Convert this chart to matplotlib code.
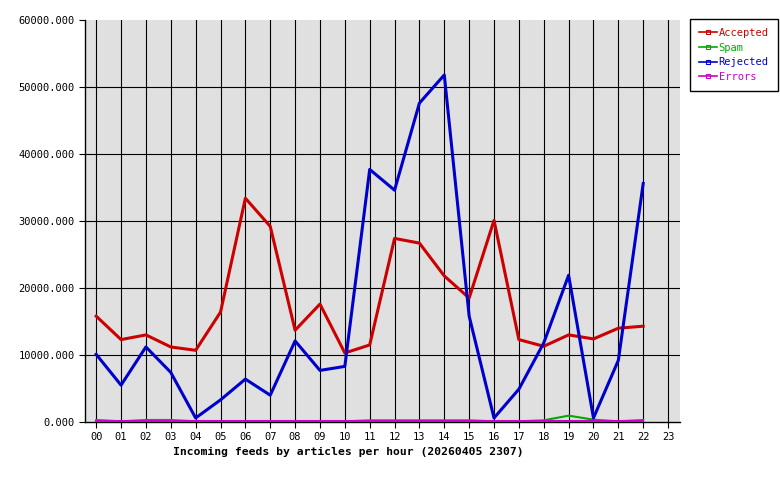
import matplotlib
matplotlib.use("Agg")
import matplotlib.pyplot as plt
from matplotlib.lines import Line2D

# hourly counts
hours = list(range(23))
hour_labels = ["%02d" % h for h in range(24)]
accepted = [15800, 12300, 13000, 11200, 10700, 16400, 33400, 29200, 13700, 17600,
            10300, 11500, 27400, 26700, 21800, 18500, 30100, 12300, 11300, 13000,
            12400, 14000, 14300]
spam = [300, 100, 300, 300, 100, 100, 100, 100, 100, 100,
        100, 250, 250, 250, 250, 250, 100, 100, 250, 950,
        350, 100, 300]
rejected = [10100, 5500, 11200, 7400, 600, 3300, 6400, 4000, 12100, 7700,
            8300, 37700, 34600, 47600, 51800, 15800, 600, 4900, 11800, 21900,
            600, 9200, 35600]
errors = [150] * 23

series = [("Accepted", accepted, "#cc0000", 2.2),
          ("Spam", spam, "#00aa00", 1.5),
          ("Rejected", rejected, "#0000cc", 2.2),
          ("Errors", errors, "#cc00cc", 1.5)]

plt.rcParams['font.family'] = ['DejaVu Sans Mono']

fig = plt.figure(figsize=(7.8, 4.8), dpi=100)
ax = fig.add_axes([85 / 780, 58 / 480, 595 / 780, 402 / 480])
ax.set_facecolor("#e0e0e0")

for h in range(24):
    ax.axvline(h, color="black", lw=0.8, zorder=1)
for v in range(10000, 60000, 10000):
    ax.axhline(v, color="black", lw=0.8, zorder=1)

for name, vals, col, lw in series:
    ax.plot(hours, vals, color=col, lw=lw, zorder=3)

ax.set_xlim(-0.45, 23.48)
ax.set_ylim(0, 60000)
ax.set_xticks(range(24))
ax.set_xticklabels(hour_labels, fontsize=7.5)
ax.set_yticks(range(0, 60001, 10000))
ax.set_yticklabels(["%d.000" % v for v in range(0, 60001, 10000)], fontsize=7.5)
ax.tick_params(direction="out", length=4, width=0.8, color="black")
ax.spines["top"].set_visible(False)
ax.spines["right"].set_visible(False)
ax.spines["left"].set_linewidth(1)
ax.spines["bottom"].set_linewidth(1)

fig.text(348 / 780, 1 - 452 / 480, "Incoming feeds by articles per hour (20260405 2307)",
         ha="center", va="center", fontsize=8.2, fontweight="bold")

handles = [Line2D([0], [0], color=col, lw=1.2, marker="s", markersize=2.5,
                  markerfacecolor="none", markeredgewidth=0.8)
           for name, vals, col, lw in series]
leg = fig.legend(handles, [s[0] for s in series], loc="upper left",
                 bbox_to_anchor=(690 / 780, 1 - 19 / 480), fontsize=7.5,
                 labelcolor="linecolor", numpoints=1, handlelength=1.7,
                 handletextpad=0.2, borderpad=0.85, labelspacing=0.45,
                 fancybox=False, framealpha=1, edgecolor="black",
                 borderaxespad=0)
leg.get_frame().set_linewidth(1)

fig.savefig("out.png", dpi=100)
